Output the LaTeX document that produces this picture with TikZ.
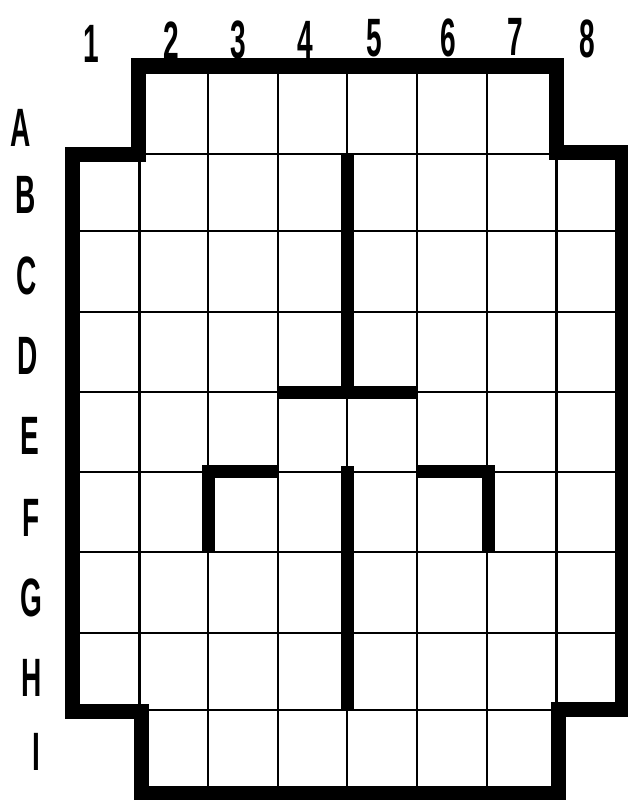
\documentclass[tikz,border=0pt]{standalone}
\usepackage{graphicx}
\usepackage{fontspec}
\setmainfont{Liberation Sans}
\tikzset{
  gridline/.style={line width=2.8pt, black},
  wall/.style={line width=13pt, line join=miter, line cap=butt, black},
  outline/.style={line width=15pt, line join=miter, black},
  lab/.style={font=\fontsize{54}{54}\selectfont\bfseries, inner sep=0pt, anchor=center},
}
\newcommand{\hw}[1]{\scalebox{0.52}[1]{#1}}
\begin{document}
\begin{tikzpicture}[x=1pt,y=-1pt]
\useasboundingbox (0,0) rectangle (628,800);
% column labels
\node[lab] (n1) at (91,44) {\hw{1}};
\node[lab] (n2) at (171,41) {\hw{2}};
\node[lab] (n3) at (238,40) {\hw{3}};
\node[lab] (n4) at (305,40) {\hw{4}};
\node[lab] (n5) at (374,38) {\hw{5}};
\node[lab] (n6) at (448,38) {\hw{6}};
\node[lab] (n7) at (515,37) {\hw{7}};
\node[lab] (n8) at (587,39) {\hw{8}};
% row labels
\node[lab] (rA) at (21,128) {\hw{A}};
\node[lab] (rB) at (26,195) {\hw{B}};
\node[lab] (rC) at (27,276) {\hw{C}};
\node[lab] (rD) at (28,356) {\hw{D}};
\node[lab] (rE) at (30,436) {\hw{E}};
\node[lab] (rF) at (31,518) {\hw{F}};
\node[lab] (rG) at (31,598) {\hw{G}};
\node[lab] (rH) at (32,678) {\hw{H}};
\node[lab] (rI) at (36,752) {\hw{I}};
% thin grid: verticals
\foreach \x in {208,278,347,417,487} \draw[gridline] (\x,66) -- (\x,793);
\draw[gridline] (139.5,153) -- (139.5,710);
\draw[gridline] (556.5,153) -- (556.5,710);
% thin grid: horizontals
\draw[gridline] (138.5,154) -- (556,154);
\foreach \y in {231,312,392,472,552,633} \draw[gridline] (71,\y) -- (622,\y);
\draw[gridline] (141,710) -- (558,710);
% outline
\draw[outline] (138.5,66) -- (556,66) -- (556,152) -- (622,152) -- (622,709) -- (558,709) -- (558,793) -- (141,793) -- (141,711) -- (72,711) -- (72,154) -- (138.5,154) -- cycle;
% inner walls
\draw[wall] (347,153) -- (347,392);
\draw[wall] (278,392) -- (417,392);
\draw[wall] (208.5,552) -- (208.5,471) -- (278,471);
\draw[wall] (347,466) -- (347,710);
\draw[wall] (417,471) -- (488.5,471) -- (488.5,552);
\end{tikzpicture}
\end{document}
